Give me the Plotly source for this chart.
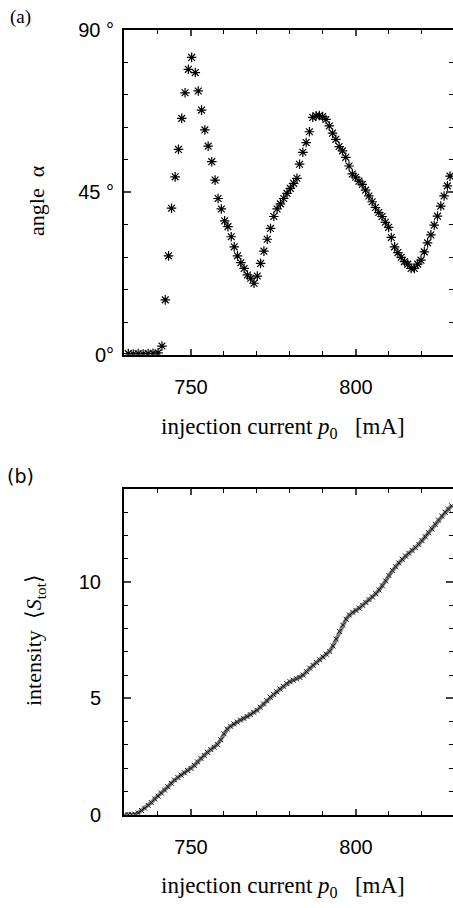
import plotly.graph_objects as go

# ---- panel (a): polarization angle vs injection current ----
current_a = [731, 732.5, 734, 735.5, 737, 738.5, 740,
             741.2, 742.2, 743.2, 744.1, 745.2, 746.2, 747.2, 748.2, 749.2, 750.2,
             751.3, 752.2, 753.2, 754.2, 755.2, 756.3, 757.3, 758.2, 759.2, 760.2,
             761.2, 762.2, 763.1, 764.1, 765.1, 766.1, 767.1, 768.1, 769.1, 770.1,
             771.1, 772.1, 773.1, 774.1, 775.1, 776.1, 777.1, 778.1, 779.1, 780.1,
             781.1, 782.1, 782.9, 783.9, 784.9, 785.9, 786.9, 787.9, 788.9, 789.9,
             790.9, 791.9, 792.9, 793.9, 794.9, 795.9, 796.9, 797.9, 798.9, 799.9,
             800.9, 801.9, 802.9, 803.9, 804.9, 805.9, 806.9, 807.9, 808.9, 809.9,
             810.7, 811.7, 812.7, 813.7, 814.7, 815.7, 816.7, 817.7, 818.7, 819.7,
             820.7, 821.7, 822.7, 823.7, 824.7, 825.7, 826.7, 827.7, 828.5]
angle_a = [0.3, 0.2, 0.3, 0.2, 0.3, 0.4, 0.5,
           2.4, 15.2, 27.4, 40.6, 49.3, 56.9, 65.5, 72.6, 79.1, 82.4,
           78.2, 73.1, 67.8, 62.3, 57.8, 53.5, 48.4, 43.3, 40.4, 37.1,
           35.5, 32.7, 29.9, 27.4, 25.5, 23.9, 22.1, 21.2, 19.8, 21.8,
           25.3, 28.7, 32.0, 35.0, 38.3, 40.4, 41.8, 43.3, 44.7, 46.1,
           47.5, 48.9, 52.8, 56.1, 58.8, 61.8, 65.8, 66.2, 66.3, 66.0,
           65.2, 63.4, 61.4, 59.7, 57.7, 56.5, 54.7, 52.3, 50.1, 49.2,
           48.1, 47.2, 45.6, 44.0, 42.4, 40.8, 39.4, 38.3, 36.7, 35.3,
           32.5, 29.9, 28.3, 27.0, 25.8, 25.1, 23.9, 23.9, 25.1, 26.2,
           28.5, 31.0, 33.2, 35.9, 38.4, 41.2, 44.0, 46.8, 49.5]

# ---- panel (b): total intensity vs injection current ----
current_b = list(range(730, 830))
intensity_b = [0.0, 0.0, 0.0, 0.02, 0.08, 0.18, 0.28, 0.4, 0.52, 0.68,
               0.8, 0.93, 1.06, 1.2, 1.35, 1.49, 1.6, 1.7, 1.8, 1.9,
               1.99, 2.12, 2.27, 2.42, 2.55, 2.68, 2.8, 2.9, 3.02, 3.22,
               3.48, 3.68, 3.8, 3.9, 3.98, 4.07, 4.14, 4.22, 4.3, 4.4,
               4.49, 4.62, 4.76, 4.9, 5.05, 5.17, 5.28, 5.4, 5.52, 5.64,
               5.72, 5.78, 5.84, 5.9, 6.0, 6.15, 6.3, 6.42, 6.54, 6.66,
               6.78, 6.9, 7.02, 7.25, 7.55, 7.88, 8.15, 8.4, 8.58, 8.7,
               8.78, 8.88, 9.0, 9.12, 9.24, 9.36, 9.5, 9.66, 9.84, 10.05,
               10.28, 10.5, 10.66, 10.82, 10.98, 11.12, 11.24, 11.36, 11.48, 11.62,
               11.78, 11.95, 12.12, 12.28, 12.48, 12.66, 12.84, 13.0, 13.14, 13.28]

angle_tickvals = [0, 45, 90]
angle_ticktext = ["0°", "45 °", "90 °"]
current_tickvals = [750, 800]
intensity_tickvals = [0, 5, 10]

W, H = 453, 908
def px_x(p): return p / W
def px_y(p): return 1 - p / H

fig = go.Figure()
fig.add_trace(go.Scatter(x=current_a, y=angle_a, mode="markers",
                         marker=dict(symbol="asterisk-open", size=8, color="black",
                                     line=dict(color="black", width=1.2)),
                         xaxis="x", yaxis="y", showlegend=False))
fig.add_trace(go.Scatter(x=current_b, y=intensity_b, mode="lines",
                         line=dict(color="#808080", width=4),
                         xaxis="x2", yaxis="y2", showlegend=False))
fig.add_trace(go.Scatter(x=current_b, y=intensity_b, mode="markers",
                         marker=dict(symbol="x-thin-open", size=5, color="#1a1a1a",
                                     line=dict(color="#1a1a1a", width=1)),
                         xaxis="x2", yaxis="y2", showlegend=False))

tickfont = dict(family="Liberation Sans, Arial, sans-serif", size=20, color="black")
xcommon = dict(range=[729.7, 829.4], tickvals=current_tickvals, ticks="inside",
               ticklen=6, tickwidth=1.5, showline=True, linewidth=2, linecolor="black",
               mirror="ticks", showgrid=False, zeroline=False, tickfont=tickfont,
               ticklabelstandoff=13, automargin=False,
               minor=dict(dtick=10, tick0=730, ticks="inside", ticklen=4,
                          tickwidth=1.2, tickcolor="black", showgrid=False))
fig.update_layout(
    width=W, height=H, margin=dict(l=0, r=0, t=0, b=0, pad=0),
    autosize=False,
    paper_bgcolor="white", plot_bgcolor="white",
    xaxis=dict(domain=[px_x(124), 1.0], anchor="y", **xcommon),
    yaxis=dict(domain=[px_y(354.7), px_y(30)], anchor="x", range=[0, 90],
               tickvals=angle_tickvals, ticktext=angle_ticktext, ticks="inside",
               ticklen=7, tickwidth=1.5, showline=True, linewidth=2, linecolor="black",
               mirror="ticks", showgrid=False, zeroline=False, tickfont=tickfont,
               ticklabelstandoff=4, automargin=False,
               minor=dict(dtick=9, tick0=0, ticks="inside", ticklen=4,
                          tickwidth=1.2, tickcolor="black", showgrid=False)),
    xaxis2=dict(domain=[px_x(124), 1.0], anchor="y2", **xcommon),
    yaxis2=dict(domain=[px_y(814.7), px_y(489)], anchor="x2", range=[0, 14],
                tickvals=intensity_tickvals, ticks="inside",
                ticklen=7, tickwidth=1.5, showline=True, linewidth=2, linecolor="black",
                mirror="ticks", showgrid=False, zeroline=False, tickfont=tickfont,
                ticklabelstandoff=17, automargin=False,
                minor=dict(dtick=1, tick0=0, ticks="inside", ticklen=4,
                           tickwidth=1.2, tickcolor="black", showgrid=False)),
)

serif = "Liberation Serif, Times New Roman, serif"
def ann(text, x, y, size, rot=0, family=serif):
    fig.add_annotation(text=text, x=px_x(x), y=px_y(y), xref="paper", yref="paper",
                       showarrow=False, textangle=rot, xanchor="center", yanchor="middle",
                       font=dict(family=family, size=size, color="black"))

ann("(a)", 20, 17, 19)
ann("(b)", 20, 476, 19, family="DejaVu Sans, sans-serif")
ann("angle  α", 36, 201, 22, rot=-90)
ann("intensity  \u27e8<i>S</i><sub>tot</sub>\u27e9", 35, 640, 22, rot=-90)
xtitle = "injection current <i>p</i><sub>0</sub>\u00a0\u00a0\u00a0[mA]"
ann(xtitle, 283, 428, 23)
ann(xtitle, 283, 887, 23)

fig.write_html("out.html")
